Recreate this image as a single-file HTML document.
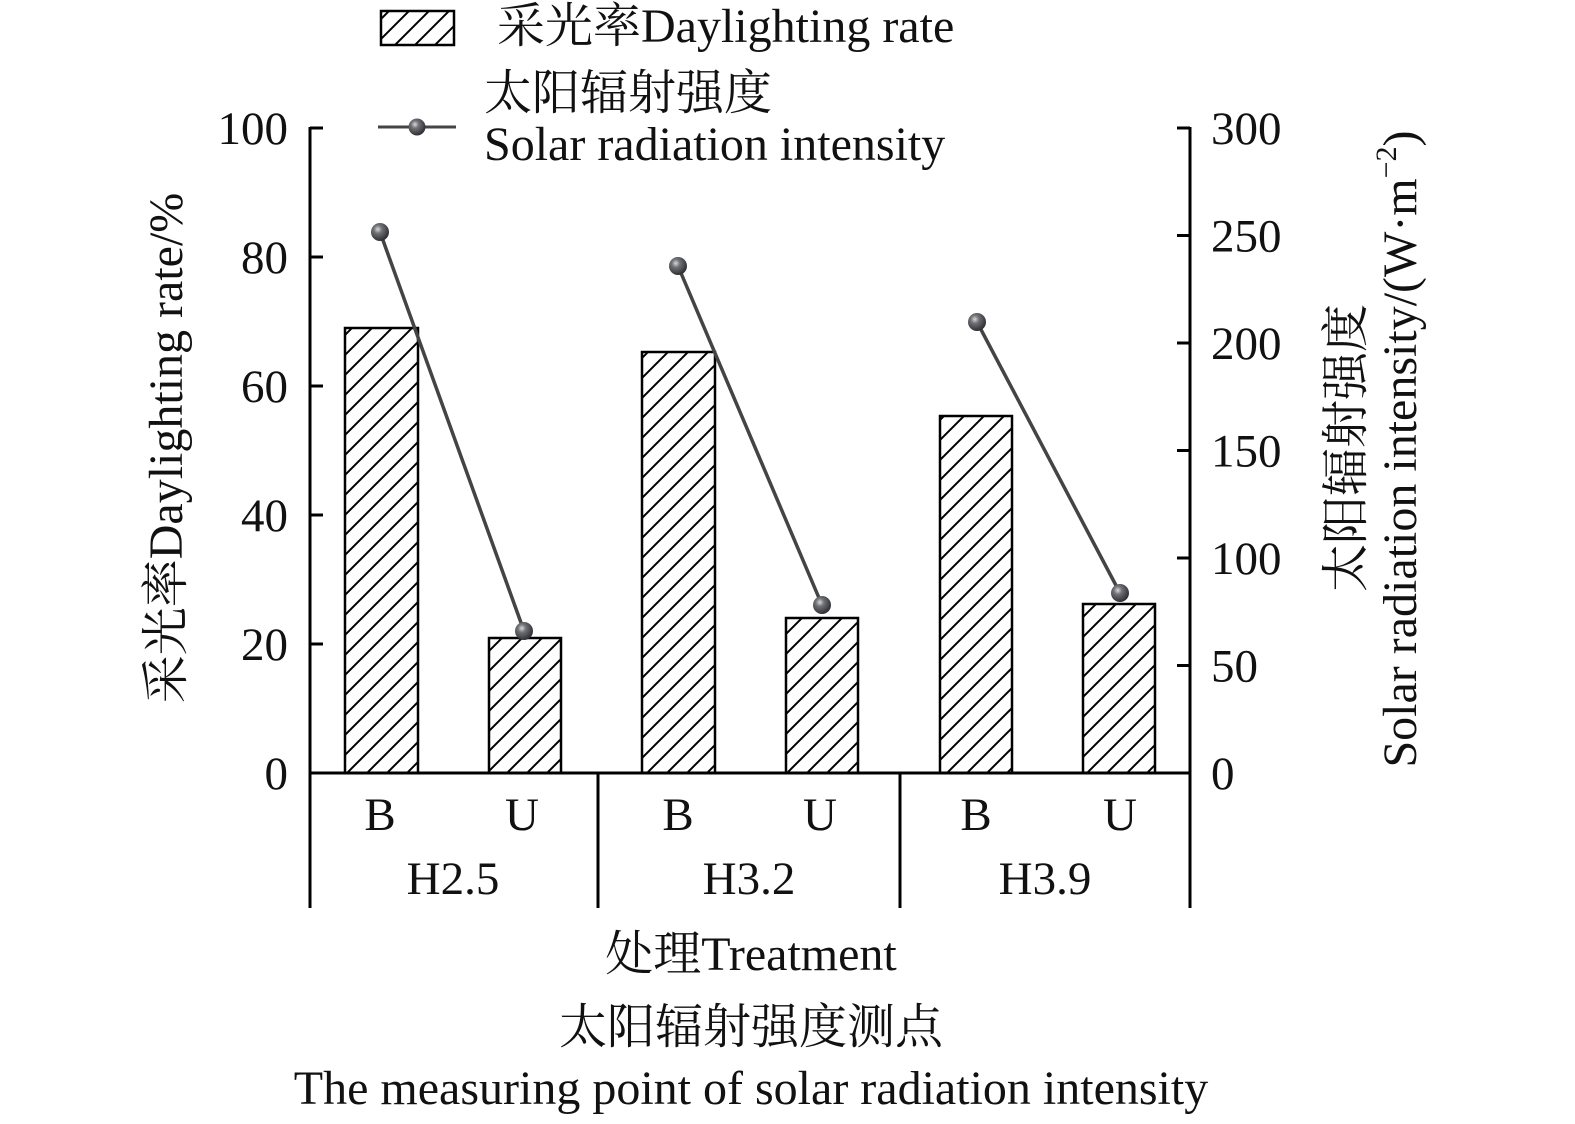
<!DOCTYPE html>
<html>
<head>
<meta charset="utf-8">
<style>
html,body{margin:0;padding:0;background:#fff;}
svg{display:block;}
text{font-family:"Liberation Serif","Noto Serif CJK SC","Noto Sans CJK SC",serif;fill:#111;}
</style>
</head>
<body>
<svg width="1575" height="1124" viewBox="0 0 1575 1124" xmlns="http://www.w3.org/2000/svg">
<defs>
<pattern id="hatch" patternUnits="userSpaceOnUse" width="20" height="20">
<path d="M-5,5 L5,-5 M0,20 L20,0 M15,25 L25,15" stroke="#000" stroke-width="2"/>
</pattern>
<radialGradient id="ball" cx="0.38" cy="0.35" r="0.65">
<stop offset="0" stop-color="#d8d8da"/>
<stop offset="0.35" stop-color="#707276"/>
<stop offset="1" stop-color="#2e3034"/>
</radialGradient>
</defs>

<!-- Legend -->
<rect x="381" y="11" width="73" height="34" fill="url(#hatch)" stroke="#000" stroke-width="2.5"/>
<text x="497" y="42" font-size="48">采光率Daylighting rate</text>
<line x1="378" y1="127" x2="456" y2="127" stroke="#444" stroke-width="3"/>
<circle cx="417" cy="127" r="8.5" fill="url(#ball)"/>
<text x="484" y="109" font-size="48">太阳辐射强度</text>
<text x="484" y="160" font-size="48">Solar radiation intensity</text>

<!-- Bars -->
<g stroke="#000" stroke-width="2.5" fill="url(#hatch)">
<rect x="345" y="328" width="73" height="445"/>
<rect x="489" y="638" width="72" height="135"/>
<rect x="642" y="352" width="73" height="421"/>
<rect x="786" y="618" width="72" height="155"/>
<rect x="940" y="416" width="72" height="357"/>
<rect x="1083" y="604" width="72" height="169"/>
</g>

<!-- Axes -->
<g stroke="#000" stroke-width="3" fill="none">
<line x1="310" y1="127" x2="310" y2="908"/>
<line x1="1190" y1="127" x2="1190" y2="908"/>
<line x1="308.5" y1="773" x2="1191.5" y2="773"/>
<line x1="598" y1="773" x2="598" y2="908"/>
<line x1="900" y1="773" x2="900" y2="908"/>
<!-- left ticks -->
<line x1="310" y1="128" x2="323" y2="128"/>
<line x1="310" y1="257" x2="323" y2="257"/>
<line x1="310" y1="386" x2="323" y2="386"/>
<line x1="310" y1="515" x2="323" y2="515"/>
<line x1="310" y1="644" x2="323" y2="644"/>
<!-- right ticks -->
<line x1="1177" y1="128" x2="1190" y2="128"/>
<line x1="1177" y1="235.5" x2="1190" y2="235.5"/>
<line x1="1177" y1="343" x2="1190" y2="343"/>
<line x1="1177" y1="450.5" x2="1190" y2="450.5"/>
<line x1="1177" y1="558" x2="1190" y2="558"/>
<line x1="1177" y1="665.5" x2="1190" y2="665.5"/>
</g>

<!-- Left tick labels -->
<g font-size="47" text-anchor="end">
<text x="288" y="144">100</text>
<text x="288" y="273">80</text>
<text x="288" y="402">60</text>
<text x="288" y="531">40</text>
<text x="288" y="660">20</text>
<text x="288" y="789">0</text>
</g>
<!-- Right tick labels -->
<g font-size="47" text-anchor="start">
<text x="1211" y="144">300</text>
<text x="1211" y="251.5">250</text>
<text x="1211" y="359">200</text>
<text x="1211" y="466.5">150</text>
<text x="1211" y="574">100</text>
<text x="1211" y="681.5">50</text>
<text x="1211" y="789">0</text>
</g>

<!-- Line series -->
<g stroke="#444" stroke-width="3.5">
<line x1="380" y1="232" x2="524" y2="631"/>
<line x1="678" y1="266" x2="822" y2="605"/>
<line x1="977" y1="322" x2="1120" y2="593"/>
</g>
<g fill="url(#ball)">
<circle cx="380" cy="232" r="9"/>
<circle cx="524" cy="631" r="9"/>
<circle cx="678" cy="266" r="9"/>
<circle cx="822" cy="605" r="9"/>
<circle cx="977" cy="322" r="9"/>
<circle cx="1120" cy="593" r="9"/>
</g>

<!-- Category labels -->
<g font-size="47" text-anchor="middle">
<text x="380" y="830">B</text>
<text x="522" y="830">U</text>
<text x="678" y="830">B</text>
<text x="820" y="830">U</text>
<text x="976" y="830">B</text>
<text x="1120" y="830">U</text>
<text x="453" y="894">H2.5</text>
<text x="749" y="894">H3.2</text>
<text x="1045" y="894">H3.9</text>
</g>

<!-- Axis titles -->
<text transform="translate(182,448) rotate(-90)" font-size="48" text-anchor="middle">采光率Daylighting rate/%</text>
<text transform="translate(1362,448) rotate(-90)" font-size="48" text-anchor="middle">太阳辐射强度</text>
<text transform="translate(1416,449) rotate(-90)" font-size="48" text-anchor="middle">Solar radiation intensity/(W·m<tspan font-size="30" dy="-20">−2</tspan><tspan dy="20">)</tspan></text>

<g font-size="48" text-anchor="middle">
<text x="751" y="970">处理Treatment</text>
<text x="751" y="1043">太阳辐射强度测点</text>
<text x="751" y="1104">The measuring point of solar radiation intensity</text>
</g>
</svg>
</body>
</html>
